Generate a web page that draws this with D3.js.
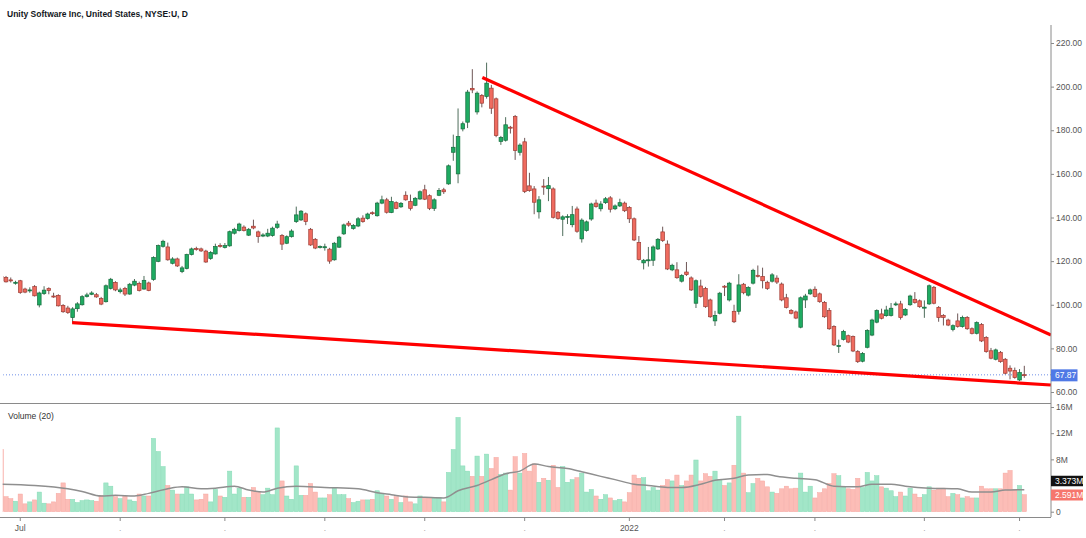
<!DOCTYPE html>
<html>
<head>
<meta charset="utf-8">
<script src="https://cdn.jsdelivr.net/npm/d3@7"></script>
<style>
body { margin: 0; background: #fff; }
svg { display: block; font-family: "Liberation Sans", Arial, sans-serif; }
</style>
</head>
<body>
<svg id="chart" width="1086" height="538"></svg>
<script>
// daily candles, index -1 .. 214 (28 Jun 2021 is index 0)
var opens = [113,112.5,111.4,109.9,111,107.2,106.5,108.3,99.9,105.1,
107.4,104.0,104.3,99.7,98.5,94.1,98.2,100,103.8,104.8,
104.6,102.8,101.4,107.5,110.2,106.0,107.5,104.9,109,109.8,
107.2,110,111.6,119.9,126.8,126.5,119,121,115.2,116.6,
123,125.8,125.6,124.6,121.2,123.3,127.2,126.3,127,132.8,
134,135.6,131.9,136.0,133.4,131.5,131.5,131.7,135.5,131.7,
128.2,131.2,138.1,138.9,141.7,134.6,130,126.3,126.2,125.5,
120.6,126.4,132.5,137.4,135,136.1,139.7,139.5,142.2,140.8,
146.6,148.1,142.3,146.8,144.9,150.2,147.3,145.6,148.5,152.7,
150,144.2,150.2,152.7,155.4,169.9,160,180.6,183.7,199.2,
188.4,196,195.5,199.3,194.4,174.9,175.4,181.4,186.3,169.9,
174.7,154.5,153.1,142.6,154.4,153.2,153.1,142.4,139.2,140.1,
136.7,143.9,130.2,134,139.3,146.6,144,146.8,149,144,
145.3,146.6,144.6,139.4,128.5,119.2,120.2,120.4,125.6,133.4,
127.8,116,116,110.8,115,112.3,100.7,108.6,107.5,102.2,
92.6,96.1,108.5,102.2,97,97,109.4,104.4,109.9,113.5,
113,110.3,110.8,112.2,109.5,103.2,97.4,96.7,89.7,102.2,
105,107.1,105,101.1,97.3,90,80.9,84.1,85.8,85.4,
78.5,74.1,80.5,86.1,92,95.8,95,95.1,100,100.4,
95.3,100,102.5,101.8,98.6,100.4,108,98.8,95.1,93,
88.7,92.6,90,94.2,89,86.9,91,85,78.9,75,
78.2,75,70.9,69.8,65.5,67.95];

var highs = [114,113.2,112.5,111,111.4,107.8,108,109,106,108.5,
108,105.5,104.8,100.3,99.5,98.9,101.2,104.4,105.5,106.2,
105.4,103.6,109.3,112.3,110.8,107.8,108.2,110,111.8,110.6,
113.2,110.6,122.2,127.6,129.8,128.5,121.8,121.6,117.8,123.4,
126.2,126.6,126.2,125.2,124.6,128,128.2,128.3,134.0,135.3,
137.6,136.4,135.2,139,134,132.8,134.8,135.8,138.5,132.4,
131.8,134.6,145,143.4,142.3,135.2,130.6,127.2,128,126.1,
128.8,131.6,137.2,138.4,137,140.2,141,142.2,142.8,147.2,
150,149,149.5,147.4,147.1,152,150.5,149.4,152.4,155,
150.6,148.8,153.5,153.6,164.3,178,190,184,198.5,208,
197.8,196.6,211,200.8,195,177.4,186,182,187,174,
176.5,160.5,154.4,149.8,157.6,158.6,153.8,143,141,141.5,
145.3,145,139.6,138.6,146.8,148.2,147.5,149.4,149.8,146,
148.6,147.3,145.2,140,131.5,121,126.5,127.2,130.6,135.8,
129.5,118.8,119.5,114,119.6,113,111.6,111.5,108.2,102.8,
97.2,105.9,109,110.5,100,114,110,108.5,116.5,118,
117,111,114.5,113.5,110.2,105,98,97.3,103.8,105,
107.4,108.4,105.6,101.7,98.5,90.6,84,88.5,86.3,85.9,
79.2,78.3,88.8,93.6,97.9,98.2,99.5,100.8,101.4,101.8,
98.5,104.6,105.8,102.4,102,109.3,108.6,99.4,95.7,93.6,
91,96,95,94.8,89.6,92.4,91.6,85.6,80.2,79.9,
78.8,75.6,72.2,71.2,70.5,72];

var lows = [110,110.2,110.2,109.2,105,105.3,105.5,103.8,98.8,104.5,
104.8,103.2,99.2,96.3,95.8,91.6,96.8,99.6,103.3,104.4,
103.2,99.8,101.0,107.0,106.2,105.2,104.0,104.6,108.5,106.1,
106.9,106.2,111.0,119.5,126.2,120.2,118.5,117.3,114.5,116.2,
122.6,124.8,124.2,119.2,120.6,123.0,126.2,125.8,126.6,132.2,
133.6,133.6,131.5,134.6,128.4,131.0,131.0,131.2,134.8,125.1,
127.8,130.8,137.5,138.4,136.5,127.0,125.5,125.8,124.8,118.8,
120.2,126.0,132,135.8,134.4,135.6,137.6,139,141.2,140.4,
146.1,141.8,142,143.8,144.4,147.7,143.2,145.2,148.1,148,
143.4,143.0,149.8,150.8,155,166,155.7,179.5,181,197,
187.2,190.5,194.5,187.5,176.8,173.3,174.8,178.5,166.4,168.4,
151.2,151.8,141.5,139.5,150.4,147.5,139.5,139.0,131.5,137,
135.5,133.0,128.5,133.5,138.5,144.5,142.8,146.2,142.3,143.4,
144.8,142.5,137.5,129.2,120.3,116.2,117.5,117.8,125.1,128.8,
115.9,115.4,111.9,110.2,113.2,106.3,98.5,103.3,98.6,94.0,
90.3,95.6,104,101.5,91.6,95.5,104.8,103.8,109.3,112.5,
107.5,106.8,110.2,109.5,101.6,98.3,95.6,93.4,89.2,98.5,
104.5,103.3,100.9,94.0,88.5,81.1,77.9,83.6,82.4,78.3,
73.3,73.6,80.0,85.6,91.5,93.3,94.5,94.6,99.4,93.2,
94.8,99.5,100.5,98.6,94,99.9,100.2,92.2,90.5,90.2,
87.8,89.5,89.5,88.5,86.4,86.4,82.9,78.0,75.0,74.5,
73.4,68.1,65.8,66.1,65.0,66.5];

var closes = [111,110.5,111.2,110.3,105.6,105.8,106.8,104.1,105.4,106.7,
106.5,103.6,99.5,96.8,96.4,98.1,100.4,103.7,104.5,105.4,
103.6,100.3,108.7,111.7,106.8,106.8,104.9,109.4,110.8,106.5,
111.2,106.5,121.7,127.1,129.1,120.6,121,117.8,116.9,123,
125.6,125.4,124.7,119.6,124,126.7,126.8,127.1,133.5,134.6,
137,134.0,134.6,135.2,131.3,132,132.8,135.1,137,127.8,
131.2,133.8,141.2,142.9,138.1,127.4,126,126.7,126.6,120,
128.2,131,136.6,136.5,136.4,139.4,138.1,141.6,141.8,146.6,
148.1,142.4,147.3,144.2,146.5,148.1,144.2,148.8,151.8,148.4,
144.2,148.1,152.4,151.8,163.7,172.2,177.1,183,197.5,198.5,
197,192.4,201.6,190.1,177.6,176.7,182.5,181.0,170.7,173.2,
151.9,152.3,147,148.1,154.0,154.6,140.1,139.6,140.3,140.5,
141.3,133.7,138.8,138,146.2,145,146.2,148.6,143.8,145.3,
146.8,143.1,139.4,129.7,120.8,120.4,120.6,126.5,130,129.4,
116.4,118.1,112.4,113.4,113.8,106.8,111,103.8,99.1,94.5,
95.1,105.3,108.2,109.9,92.2,109.1,105.5,107.9,115.8,113.0,
111,107.5,113.7,110.4,102.2,98.8,96.1,93.9,103.2,104,
106.8,103.8,101.4,94.5,89,81.6,81.3,87.8,82.9,78.8,
73.9,77.7,88.2,93,97.3,93.8,97.6,98.4,100.4,94.1,
97.9,104,101.0,99.1,98.9,108.7,100.7,94.1,94.2,90.7,
90.4,90,94.2,89,86.9,91.8,83.4,78.5,75.5,79.3,
73.9,68.6,69.6,66.6,68.9,67.87];

// volume in millions
var volumes = [9.5,2.3,2.0,1.6,2.7,1.2,1.5,1.8,3.0,1.3,
1.2,1.5,2.8,4.4,1.9,1.9,1.4,1.7,1.8,1.7,
1.6,2.5,4.4,3.9,2.3,2.0,2.4,1.8,1.6,2.7,
2.4,2.4,11.2,9.2,6.9,4.0,3.3,2.7,2.7,3.8,
2.7,1.8,1.9,2.7,1.5,3.4,2.4,2.2,6.2,2.7,
3.6,2.2,2.2,3.7,3.1,2.6,3.6,2.6,12.8,4.7,
2.4,1.9,7.0,2.5,2.5,4.3,3.0,2.1,2.1,2.6,
3.6,2.6,2.6,2.0,1.4,1.6,1.8,1.8,1.9,3.2,
2.8,2.4,1.9,2.3,1.4,2.4,1.5,1.2,2.4,2.2,
2.2,2.2,2.2,1.5,6.0,9.5,14.4,7.0,6.2,5.4,
8.5,5.4,8.8,6.6,8.3,5.7,5.9,3.3,8.4,5.9,
8.9,6.2,7.3,4.5,5.1,4.8,7.1,3.7,6.9,4.5,
4.9,5.2,5.9,3.0,3.4,2.4,1.9,2.6,2.1,1.7,
1.9,1.5,2.9,5.6,5.1,5.2,3.2,3.7,3.3,4.0,
4.9,4.7,5.6,4.0,4.7,5.6,7.9,4.7,5.8,5.4,
6.2,4.9,4.0,4.4,7.1,14.6,5.9,2.9,4.3,5.1,
4.7,3.8,3.0,2.8,3.5,3.9,3.5,3.6,5.9,3.0,
3.9,2.1,2.9,3.5,4.3,5.8,5.5,3.8,3.5,3.4,
5.1,3.7,6.0,4.7,5.5,3.8,3.6,3.2,2.3,3.0,
2.4,3.6,2.7,2.2,2.6,3.8,3.3,3.6,3.6,2.3,
2.8,2.6,2.1,2.3,2.1,2.1,3.9,3.5,3.5,3.5,
3.5,5.9,6.3,3.4,4.0,2.591];

// volume MA(20) at these bar indices
var maIdx = [-1,6,13,16,20,23,27,30,34,37,41,44,48,51,54,57,61,67,74,78,81,84,88,92,95,99,102,105,108,111,114,118,121,125,128,132,135,139,142,146,149,153,156,160,162,166,170,174,179,182,186,189,194,200,203,207,210,214];
var maVal = [4.2,4.0,3.5,3.1,2.4,2.5,2.4,2.8,3.5,3.8,3.5,3.6,3.9,3.3,3.0,3.6,3.9,3.7,3.5,2.9,2.6,2.3,2.2,2.1,3.2,4.0,4.9,5.8,6.2,7.3,6.9,6.6,6.1,5.4,4.9,4.2,4.0,3.7,3.7,4.2,4.8,5.1,5.6,5.7,5.4,5.1,4.9,3.9,3.8,4.2,4.2,3.9,3.6,3.5,3.0,3.0,3.3,3.373];

// wedge lines: [bar index, price]
var upperLine = [[100.1, 204.2], [219.6, 86.1]];
var lowerLine = [[13.9, 91.8], [219.6, 63.2]];

var priceTicks = [60, 80, 100, 120, 140, 160, 180, 200, 220];
var volTicks = [0, 8, 12, 16];
var monthIdx = [3, 24, 46, 67, 88, 109, 131, 151, 170, 193, 213];
var monthLabels = ["Jul", ".", ".", ".", ".", ".", "2022", ".", ".", ".", "."];

var title = "Unity Software Inc, United States, NYSE:U, D";
var lastMA = "3.373M", lastVol = "2.591M";

var svg = d3.select("#chart");
var axisX = 1051;

var x = d3.scaleLinear().domain([0, 214]).range([6, 1024.3]);
var yPrice = d3.scaleLinear().domain([60, 220]).range([392, 43]);
var yVol = d3.scaleLinear().domain([0, 16]).range([511.7, 407]);

var upCol = "#1fab62", upEdge = "#146c3c";
var downCol = "#ef6b5f", downEdge = "#9e3b33";

var defs = svg.append("defs");
defs.append("clipPath").attr("id", "clipPrice")
    .append("rect").attr("x", 3.2).attr("y", 25).attr("width", axisX - 3.2).attr("height", 378);
defs.append("clipPath").attr("id", "clipVol")
    .append("rect").attr("x", 2.7).attr("y", 404).attr("width", axisX - 2.7).attr("height", 113);

var bars = d3.range(opens.length).map(function(k) {
    return {i: k - 1, o: opens[k], h: highs[k], l: lows[k], c: closes[k], v: volumes[k]};
});

// volume pane
var vol = svg.append("g").attr("clip-path", "url(#clipVol)");
vol.selectAll("rect.vol").data(bars).enter().append("rect")
    .attr("x", function(d){ return x(d.i) - 2.15; })
    .attr("width", 4.3)
    .attr("y", function(d){ return yVol(d.v); })
    .attr("height", function(d){ return yVol(0) - yVol(d.v); })
    .attr("fill", function(d){ return d.c >= d.o ? "#a2e6c8" : "#fcbdb7"; })
    .attr("stroke", function(d){ return d.c >= d.o ? "#86dbb6" : "#f6a8a1"; })
    .attr("stroke-width", 0.5);

var maLine = d3.line()
    .x(function(d, j){ return x(maIdx[j]); })
    .y(function(d){ return yVol(d); })
    .curve(d3.curveMonotoneX);
vol.append("path")
    .attr("d", maLine(maVal))
    .attr("fill", "none")
    .attr("stroke", "#8f8f8f")
    .attr("stroke-width", 1.5);

// price pane
var pane = svg.append("g").attr("clip-path", "url(#clipPrice)");

pane.append("line")
    .attr("x1", 0).attr("x2", axisX)
    .attr("y1", yPrice(closes[closes.length - 1])).attr("y2", yPrice(closes[closes.length - 1]))
    .attr("stroke", "#6f8fe8").attr("stroke-width", 1).attr("stroke-dasharray", "1,2");

pane.selectAll("line.wick").data(bars).enter().append("line")
    .attr("x1", function(d){ return x(d.i); })
    .attr("x2", function(d){ return x(d.i); })
    .attr("y1", function(d){ return yPrice(d.h); })
    .attr("y2", function(d){ return yPrice(d.l); })
    .attr("stroke", function(d){ return d.c >= d.o ? "#4f6e5c" : "#6e5656"; })
    .attr("stroke-width", 1);

pane.selectAll("rect.body").data(bars).enter().append("rect")
    .attr("x", function(d){ return x(d.i) - 1.8; })
    .attr("width", 3.6)
    .attr("y", function(d){ return yPrice(Math.max(d.o, d.c)); })
    .attr("height", function(d){ return Math.max(1, Math.abs(yPrice(d.o) - yPrice(d.c))); })
    .attr("fill", function(d){ return d.c >= d.o ? upCol : downCol; })
    .attr("stroke", function(d){ return d.c >= d.o ? upEdge : downEdge; })
    .attr("stroke-width", 0.7);

var trend = d3.line()
    .x(function(d){ return x(d[0]); })
    .y(function(d){ return yPrice(d[1]); });
[upperLine, lowerLine].forEach(function(seg) {
    pane.append("path")
        .attr("d", trend(seg))
        .attr("fill", "none")
        .attr("stroke", "#ff0000")
        .attr("stroke-width", 3.2);
});

// frame lines
var frame = "#8a8a8a";
svg.append("line").attr("x1", axisX).attr("x2", axisX).attr("y1", 25).attr("y2", 517)
    .attr("stroke", frame).attr("stroke-width", 1);
svg.append("line").attr("x1", 0).attr("x2", axisX).attr("y1", 403.5).attr("y2", 403.5)
    .attr("stroke", frame).attr("stroke-width", 1);
svg.append("line").attr("x1", 0).attr("x2", axisX).attr("y1", 517.5).attr("y2", 517.5)
    .attr("stroke", frame).attr("stroke-width", 1);

// price axis
var pAxis = svg.append("g")
    .attr("transform", "translate(" + axisX + ",0)")
    .call(d3.axisRight(yPrice).tickValues(priceTicks).tickSize(3).tickPadding(2).tickFormat(d3.format(".2f")));
pAxis.select(".domain").remove();
pAxis.selectAll("line").attr("stroke", frame);
pAxis.selectAll("text").attr("fill", "#555").style("font-size", "8.5px").style("font-family", "inherit");

// volume axis
var vAxis = svg.append("g")
    .attr("transform", "translate(" + axisX + ",0)")
    .call(d3.axisRight(yVol).tickValues(volTicks).tickSize(3).tickPadding(2)
        .tickFormat(function(d){ return d === 0 ? "0" : d + "M"; }));
vAxis.select(".domain").remove();
vAxis.selectAll("line").attr("stroke", frame);
vAxis.selectAll("text").attr("fill", "#555").style("font-size", "8.5px").style("font-family", "inherit");

// time axis
var tAxis = svg.append("g");
tAxis.selectAll("line").data(monthIdx).enter().append("line")
    .attr("x1", function(d){ return x(d); }).attr("x2", function(d){ return x(d); })
    .attr("y1", 518).attr("y2", 521)
    .attr("stroke", frame);
tAxis.selectAll("text").data(monthIdx).enter().append("text")
    .attr("x", function(d){ return x(d); })
    .attr("y", 530.5)
    .attr("text-anchor", "middle")
    .attr("fill", function(d, j){ return monthLabels[j] === "." ? "#aaa" : "#555"; })
    .style("font-size", "8.5px")
    .text(function(d, j){ return monthLabels[j]; });

// last value labels
function tag(y, h, w, fill, txt) {
    svg.append("rect").attr("x", axisX).attr("y", y - h / 2).attr("width", w).attr("height", h).attr("fill", fill);
    svg.append("text").attr("x", axisX + 4).attr("y", y + 3).attr("fill", "#fff")
        .style("font-size", "8.5px").text(txt);
}
tag(yPrice(closes[closes.length - 1]) + 0.5, 12, 26.5, "#5079e6", d3.format(".2f")(closes[closes.length - 1]));
tag(481, 10.5, 32, "#121212", lastMA);
tag(495, 11, 32, "#f6766d", lastVol);

// titles
svg.append("text").attr("x", 7).attr("y", 16.5)
    .attr("fill", "#131722").style("font-size", "8.5px").style("font-weight", "bold")
    .text(title);
svg.append("text").attr("x", 8).attr("y", 419)
    .attr("fill", "#333").style("font-size", "8.5px")
    .text("Volume (20)");
</script>
</body>
</html>
